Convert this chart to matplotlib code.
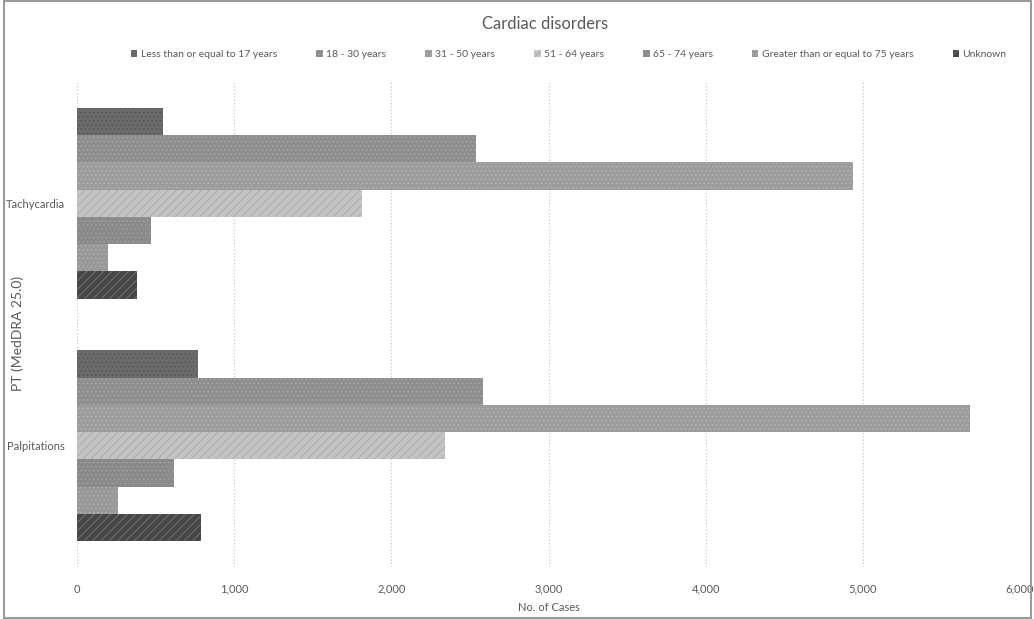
import numpy as np
import matplotlib
matplotlib.use("Agg")
from matplotlib import pyplot as plt
from matplotlib.patches import Rectangle
from matplotlib.ticker import FuncFormatter

plt.rcParams['font.family'] = ['Lato', 'DejaVu Sans']
plt.rcParams['hatch.linewidth'] = 0.6

# data
categories = ['Palpitations', 'Tachycardia']
series = ['Less than or equal to 17 years', '18 - 30 years', '31 - 50 years',
          '51 - 64 years', '65 - 74 years', 'Greater than or equal to 75 years',
          'Unknown']
palpitations = [772, 2580, 5680, 2340, 620, 260, 790]
tachycardia = [550, 2540, 4940, 1810, 472, 198, 383]

colors = ['#6b6b6b', '#8e8e8e', '#9c9c9c', '#c4c4c4', '#8a8a8a', '#989898', '#474747']
hatch_colors = ['#555555', '#a8a8a8', '#b4b4b4', '#a6a6a6', '#a0a0a0', '#b0b0b0', '#7a7a7a']
hatches = ['....', '....', '....', '////', '....', '....', '////']

text_color = '#595959'

fig = plt.figure(figsize=(10.34, 6.19), dpi=100)
ax = fig.add_axes([0.0745, 0.084, 0.912, 0.7835])

values = np.array([palpitations, tachycardia])
y = np.arange(len(categories))
h = 0.1125
for i, name in enumerate(series):
    off = (3 - i) * h
    ax.barh(y + off, values[:, i], height=h, color=colors[i], edgecolor=hatch_colors[i],
            linewidth=0, hatch=hatches[i], label=name)

ax.set_xlim(0, 6000)
ax.set_ylim(-0.5, 1.5)
ax.set_xticks(np.arange(0, 6001, 1000))
ax.xaxis.set_major_formatter(FuncFormatter(lambda v, p: f'{int(v):,}'))
ax.set_yticks(y)
ax.set_yticklabels(categories)
ax.tick_params(axis='both', length=0, labelsize=8, colors=text_color)
ax.tick_params(axis='x', pad=12)
ax.tick_params(axis='y', pad=9)
ax.grid(axis='x', color='#bfbfbf', linestyle=(0, (1, 2)), linewidth=0.8)
ax.set_axisbelow(True)
for s in ax.spines.values():
    s.set_visible(False)

ax.set_xlabel('No. of Cases', fontsize=8, color=text_color, labelpad=5)
fig.text(0.017, 0.462, 'PT (MedDRA 25.0)', rotation=90, fontsize=10, color=text_color,
         ha='center', va='center')

fig.text(0.527, 0.962, 'Cardiac disorders', fontsize=12, color=text_color,
         ha='center', va='center')

fig.legend(loc='center', bbox_to_anchor=(0.550, 0.912), ncol=7, frameon=False,
           fontsize=7.5, labelcolor=text_color, handlelength=0.6, handleheight=0.6,
           handletextpad=0.3, columnspacing=3.8)

fig.add_artist(Rectangle((0.004, 0.002), 0.993, 0.996, transform=fig.transFigure,
                         fill=False, edgecolor='#9a9a9a', linewidth=1.5))

fig.savefig('out.png', dpi=100)
